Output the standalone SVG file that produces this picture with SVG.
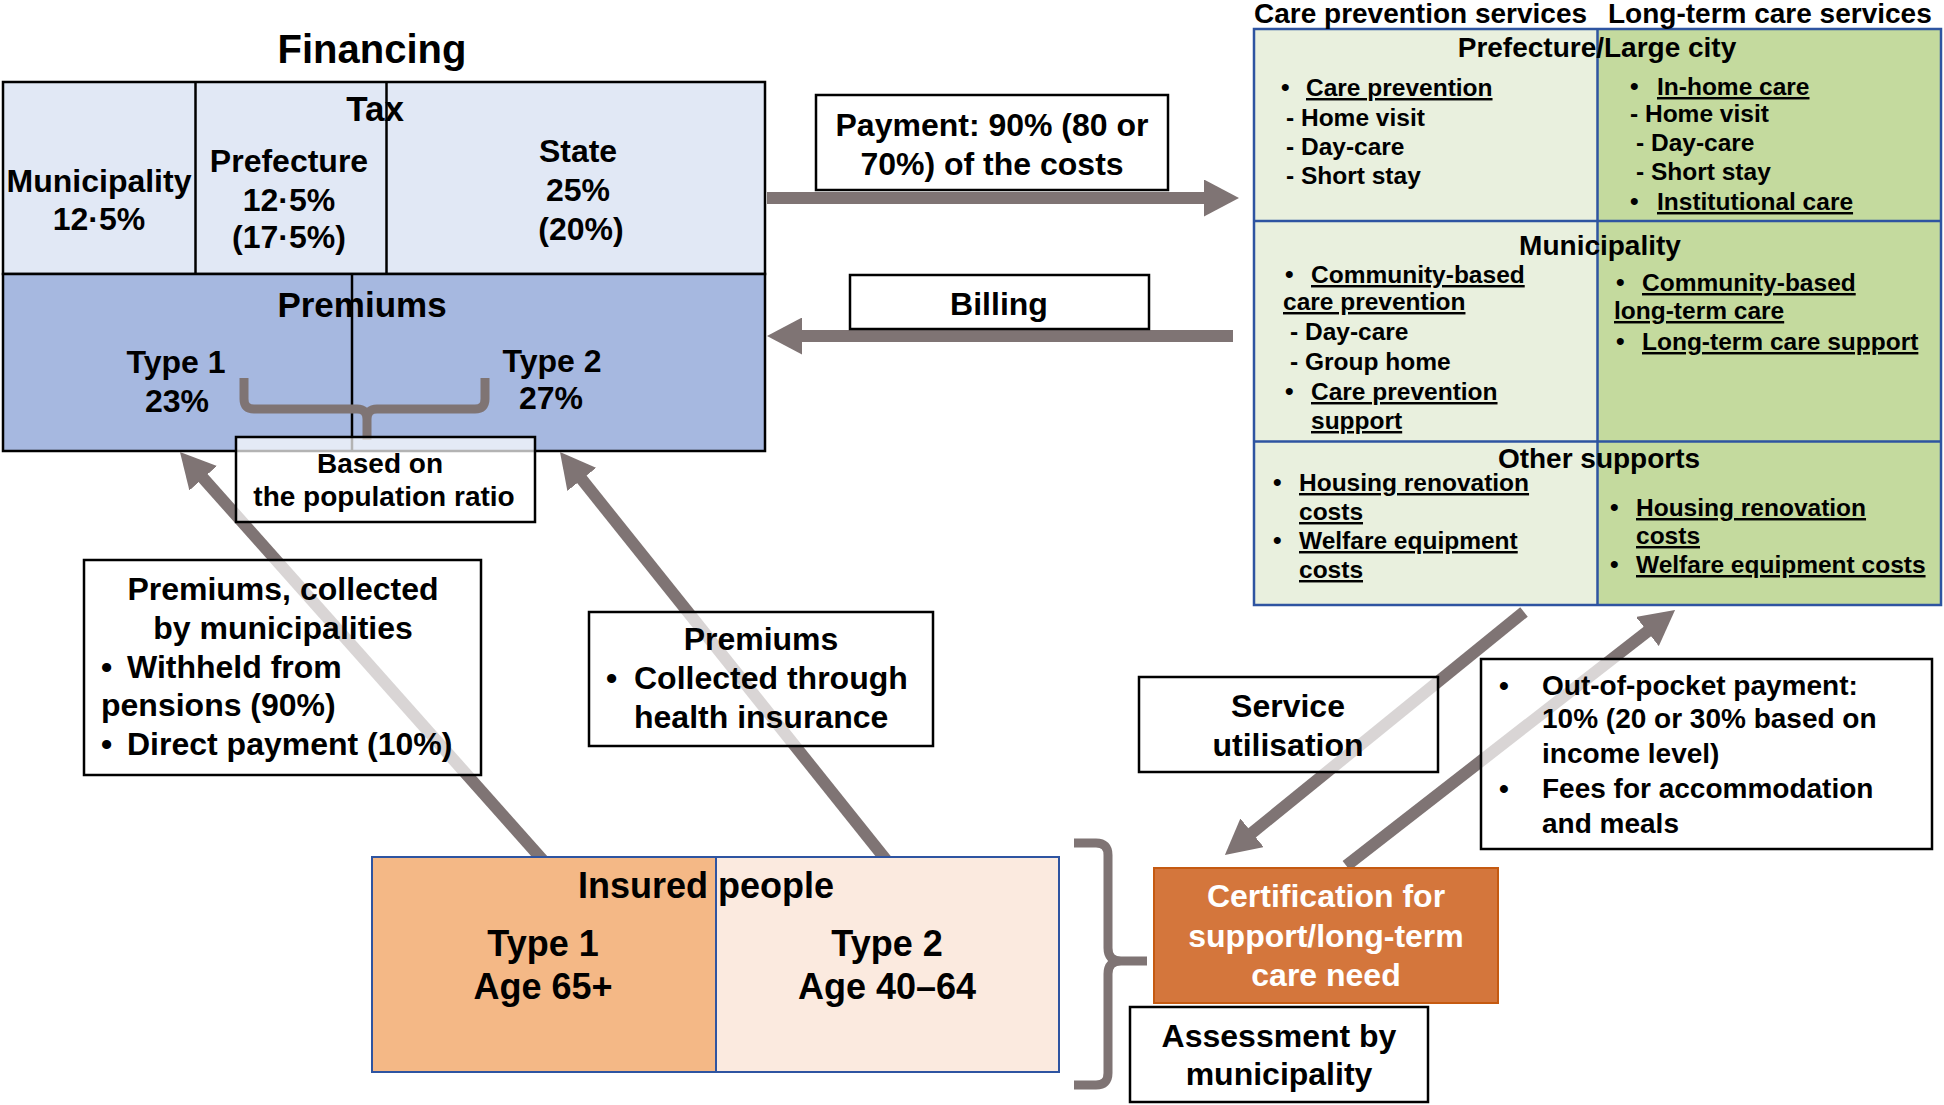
<svg xmlns="http://www.w3.org/2000/svg" width="1944" height="1105" viewBox="0 0 1944 1105">
<style>
text{font-family:"Liberation Sans",Arial,sans-serif;font-weight:bold;fill:#000}
.c{text-anchor:middle}
.u{text-decoration:underline}
.f40{font-size:40px}.f36{font-size:36px}.f35{font-size:35px}.f32{font-size:32px}.f28{font-size:28px}.f24{font-size:24.5px}
.box{fill:#fff;fill-opacity:0.7;stroke:#000;stroke-width:2.5}
.blk{stroke:#000;stroke-width:2.5}
.bl{stroke:#2E54A1;stroke-width:2.5}
.arr{stroke:#7F7474;stroke-width:12;fill:none;marker-end:url(#ah)}
.brace{stroke:#7F7474;stroke-width:9;fill:none}
.w{fill:#fff}
</style>
<defs>
<marker id="ah" markerUnits="userSpaceOnUse" markerWidth="35" markerHeight="37" viewBox="0 0 35 37" refX="2" refY="18.5" orient="auto"><path d="M0,0 L35,18.5 L0,37 z" fill="#7F7474"/></marker>
</defs>
<rect width="1944" height="1105" fill="#fff"/>

<g id="financing">
<text x="372" y="63" class="c f40">Financing</text>
<rect x="3" y="82" width="762" height="192" fill="#E1E8F5" class="blk"/>
<rect x="3" y="274" width="762" height="177" fill="#A6B8E0" class="blk"/>
<line x1="195.5" y1="82" x2="195.5" y2="274" class="blk"/>
<line x1="386.5" y1="82" x2="386.5" y2="274" class="blk"/>
<line x1="352" y1="274" x2="352" y2="451" class="blk"/>
<text x="375" y="121" class="c f35">Tax</text>
<text x="99" y="192" class="c f32">Municipality</text>
<text x="99" y="230" class="c f32">12·5%</text>
<text x="289" y="172" class="c f32">Prefecture</text>
<text x="289" y="211" class="c f32">12·5%</text>
<text x="289" y="248" class="c f32">(17·5%)</text>
<text x="578" y="162" class="c f32">State</text>
<text x="578" y="201" class="c f32">25%</text>
<text x="581" y="240" class="c f32">(20%)</text>
<text x="362" y="317" class="c f35">Premiums</text>
<text x="176" y="373" class="c f32">Type 1</text>
<text x="177" y="412" class="c f32">23%</text>
<text x="552" y="372" class="c f32">Type 2</text>
<text x="551" y="409" class="c f32">27%</text>
</g>

<g id="services">
<rect x="1254" y="29" width="343.5" height="576" fill="#E9F0DE"/>
<rect x="1597.5" y="29" width="343.5" height="576" fill="#C4DA9E"/>
<rect x="1254" y="29" width="687" height="576" fill="none" class="bl"/>
<line x1="1254" y1="221" x2="1941" y2="221" class="bl"/>
<line x1="1254" y1="441.5" x2="1941" y2="441.5" class="bl"/>
<line x1="1597.5" y1="29" x2="1597.5" y2="605" class="bl"/>
<text x="1254" y="23" class="f28">Care prevention services</text>
<text x="1608" y="23" class="f28">Long-term care services</text>
<text x="1597" y="57" class="c f28">Prefecture/Large city</text>
<text x="1600" y="255" class="c f28">Municipality</text>
<text x="1599" y="468" class="c f28">Other supports</text>
<g class="f24">
<text x="1281" y="96">•</text><text x="1306" y="96" class="u">Care prevention</text>
<text x="1286" y="126">- Home visit</text>
<text x="1286" y="155">- Day-care</text>
<text x="1286" y="184">- Short stay</text>
<text x="1630" y="95">•</text><text x="1657" y="95" class="u">In-home care</text>
<text x="1630" y="122">- Home visit</text>
<text x="1636" y="151">- Day-care</text>
<text x="1636" y="180">- Short stay</text>
<text x="1630" y="210">•</text><text x="1657" y="210" class="u">Institutional care</text>
<text x="1285" y="283">•</text><text x="1311" y="283" class="u">Community-based</text>
<text x="1283" y="310" class="u">care prevention</text>
<text x="1290" y="340">- Day-care</text>
<text x="1290" y="370">- Group home</text>
<text x="1285" y="400">•</text><text x="1311" y="400" class="u">Care prevention</text>
<text x="1311" y="429" class="u">support</text>
<text x="1616" y="291">•</text><text x="1642" y="291" class="u">Community-based</text>
<text x="1614" y="319" class="u">long-term care</text>
<text x="1616" y="350">•</text><text x="1642" y="350" class="u">Long-term care support</text>
<text x="1273" y="491">•</text><text x="1299" y="491" class="u">Housing renovation</text>
<text x="1299" y="520" class="u">costs</text>
<text x="1273" y="549">•</text><text x="1299" y="549" class="u">Welfare equipment</text>
<text x="1299" y="578" class="u">costs</text>
<text x="1610" y="516">•</text><text x="1636" y="516" class="u">Housing renovation</text>
<text x="1636" y="544" class="u">costs</text>
<text x="1610" y="573">•</text><text x="1636" y="573" class="u">Welfare equipment costs</text>
</g>
</g>

<g id="connectors">
<line x1="767" y1="198" x2="1206" y2="198" class="arr"/>
<line x1="1233" y1="336" x2="800" y2="336" class="arr"/>
<line x1="548" y1="866" x2="201.9" y2="476.7" class="arr"/>
<line x1="891" y1="866" x2="580.6" y2="477.8" class="arr"/>
<line x1="1524" y1="612" x2="1250.5" y2="834.1" class="arr"/>
<line x1="1346.3" y1="865.7" x2="1649" y2="630.3" class="arr"/>
<path d="M244,378 V399 Q244,409 254,409 H357 Q367,409 367,419 V440 M485,378 V399 Q485,409 475,409 H377 Q367,409 367,419" class="brace"/>
<path d="M1074,843 H1096 Q1108,843 1108,855 V948 Q1108,961 1121,961 H1147 M1121,961 Q1108,961 1108,974 V1073 Q1108,1085 1096,1085 H1074" class="brace"/>
</g>

<g id="based-on">
<rect x="236" y="437" width="299" height="85" class="box"/>
<text x="380" y="473" class="c f28">Based on</text>
<text x="384" y="506" class="c f28">the population ratio</text>
</g>

<g id="payment">
<rect x="816" y="95" width="352" height="95" class="box"/>
<text x="992" y="136" class="c f32">Payment: 90% (80 or</text>
<text x="992" y="175" class="c f32">70%) of the costs</text>
</g>

<g id="billing">
<rect x="850" y="275" width="299" height="54" class="box"/>
<text x="999" y="315" class="c f32">Billing</text>
</g>

<g id="premiums-municipal">
<rect x="84" y="560" width="397" height="215" class="box"/>
<text x="283" y="600" class="c f32">Premiums, collected</text>
<text x="283" y="639" class="c f32">by municipalities</text>
<text x="101" y="678" class="f32">•</text><text x="127" y="678" class="f32">Withheld from</text>
<text x="101" y="716" class="f32">pensions (90%)</text>
<text x="101" y="755" class="f32">•</text><text x="127" y="755" class="f32">Direct payment (10%)</text>
</g>

<g id="premiums-health">
<rect x="589" y="612" width="344" height="134" class="box"/>
<text x="761" y="650" class="c f32">Premiums</text>
<text x="606" y="689" class="f32">•</text><text x="634" y="689" class="f32">Collected through</text>
<text x="634" y="728" class="f32">health insurance</text>
</g>

<g id="service-utilisation">
<rect x="1139" y="677" width="299" height="95" class="box"/>
<text x="1288" y="717" class="c f32">Service</text>
<text x="1288" y="756" class="c f32">utilisation</text>
</g>

<g id="out-of-pocket">
<rect x="1481" y="659" width="451" height="190" class="box"/>
<text x="1499" y="695" class="f28">•</text><text x="1542" y="695" class="f28">Out-of-pocket payment:</text>
<text x="1542" y="728" class="f28">10% (20 or 30% based on</text>
<text x="1542" y="763" class="f28">income level)</text>
<text x="1499" y="798" class="f28">•</text><text x="1542" y="798" class="f28">Fees for accommodation</text>
<text x="1542" y="833" class="f28">and meals</text>
</g>

<g id="insured">
<rect x="372" y="857" width="344" height="215" fill="#F4B886"/>
<rect x="716" y="857" width="343" height="215" fill="#FBEADF"/>
<rect x="372" y="857" width="687" height="215" fill="none" stroke="#2E54A1" stroke-width="2"/>
<line x1="716" y1="857" x2="716" y2="1072" stroke="#2E54A1" stroke-width="2"/>
<text x="706" y="898" class="c f36">Insured people</text>
<text x="543" y="956" class="c f36">Type 1</text>
<text x="543" y="999" class="c f36">Age 65+</text>
<text x="887" y="956" class="c f36">Type 2</text>
<text x="887" y="999" class="c f36">Age 40–64</text>
</g>

<g id="certification">
<rect x="1154" y="868" width="344" height="135" fill="#D4763C" stroke="#C55A11" stroke-width="2"/>
<text x="1326" y="907" class="c f32 w">Certification for</text>
<text x="1326" y="947" class="c f32 w">support/long-term</text>
<text x="1326" y="986" class="c f32 w">care need</text>
</g>

<g id="assessment">
<rect x="1130" y="1007" width="298" height="95" class="box"/>
<text x="1279" y="1047" class="c f32">Assessment by</text>
<text x="1279" y="1085" class="c f32">municipality</text>
</g>
</svg>
